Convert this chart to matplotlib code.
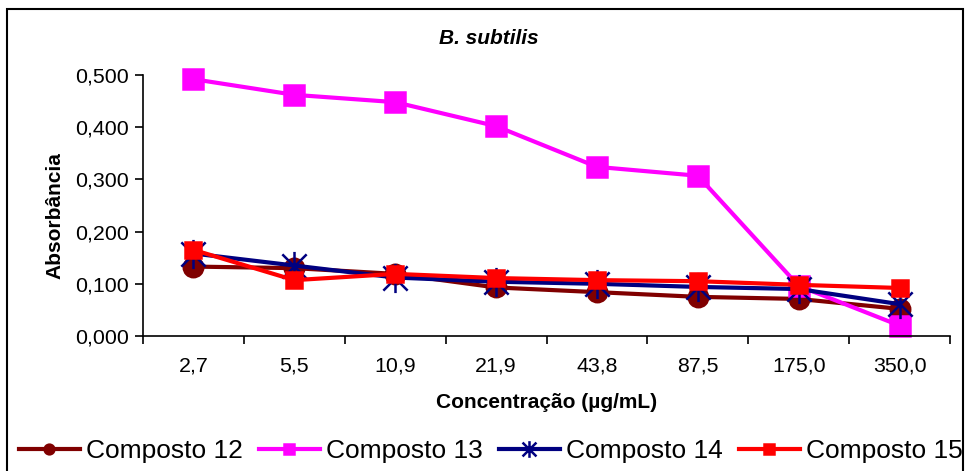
import matplotlib
matplotlib.use("Agg")
import matplotlib.pyplot as plt
from matplotlib.patches import Rectangle
from matplotlib.path import Path
import numpy as np

plt.rcParams['font.family'] = ['Liberation Sans', 'DejaVu Sans']

# concentrations (ug/mL) and absorbance for each compound
concentracoes = ['2,7', '5,5', '10,9', '21,9', '43,8', '87,5', '175,0', '350,0']
composto_12 = [0.133, 0.130, 0.119, 0.093, 0.084, 0.075, 0.071, 0.052]
composto_13 = [0.492, 0.462, 0.448, 0.402, 0.324, 0.307, 0.096, 0.020]
composto_14 = [0.158, 0.135, 0.112, 0.104, 0.100, 0.094, 0.090, 0.061]
composto_15 = [0.165, 0.107, 0.119, 0.111, 0.107, 0.105, 0.098, 0.092]

W, H = 970, 471
fig = plt.figure(figsize=(W / 100, H / 100), dpi=100)

# outer chart border (runs off the bottom edge)
fig.patches.append(Rectangle((7 / W, -0.05), 956 / W, 1.05 - 9 / H,
                             transform=fig.transFigure, fill=False,
                             edgecolor='black', linewidth=1.5, clip_on=False))

# Excel-style asterisk: an X crossed by a vertical stroke
asterisco = Path([(-1, -1), (1, 1), (-1, 1), (1, -1), (0, -1.2), (0, 1.2)],
                 [Path.MOVETO, Path.LINETO] * 3)

ax = fig.add_axes([143 / W, 135 / H, 807 / W, 261 / H])
x = np.arange(len(concentracoes))

# name, values, colour, marker, size in plot, size in legend
series = [
    ('Composto 12', composto_12, '#800000', 'o', 14, 7),
    ('Composto 13', composto_13, '#FF00FF', 's', 14, 7),
    ('Composto 14', composto_14, '#000080', asterisco, 21, 12),
    ('Composto 15', composto_15, '#FF0000', 's', 11, 7),
]
for nome, valores, cor, marcador, ms, _ in series:
    ax.plot(x, valores, color=cor, linewidth=3, marker=marcador,
            markersize=ms, markerfacecolor=cor, markeredgecolor=cor,
            markeredgewidth=1.8, label=nome, clip_on=False)

ax.set_xlim(-0.5, len(concentracoes) - 0.5)
ax.set_ylim(0, 0.5)
yticks = np.arange(0, 0.501, 0.1)
ax.set_yticks(yticks)
ax.set_yticklabels([f'{v:.3f}'.replace('.', ',') for v in yticks])
ax.set_xticks(x)
ax.set_xticklabels(concentracoes)
ax.set_xticks(np.arange(-0.5, len(concentracoes)), minor=True)
ax.tick_params(axis='x', which='major', length=0, pad=15, labelsize=15.4)
ax.tick_params(axis='x', which='minor', length=6, width=1.2, color='black')
ax.tick_params(axis='y', length=6, width=1.2, labelsize=15.4, pad=4)

for lado in ('top', 'right'):
    ax.spines[lado].set_visible(False)
for lado in ('left', 'bottom'):
    ax.spines[lado].set_linewidth(1.2)

fig.text(489 / W, 1 - 38 / H, 'B. subtilis', ha='center', va='center',
         fontsize=15, fontweight='bold', fontstyle='italic')
fig.text(547 / W, 1 - 403 / H, 'Concentração (µg/mL)', ha='center',
         va='center', fontsize=15, fontweight='bold')
fig.text(55 / W, 1 - 216 / H, 'Absorbância', ha='center', va='center',
         rotation=90, fontsize=15, fontweight='bold')

leg = fig.legend(loc='center', bbox_to_anchor=(491 / W, 1 - 451 / H), ncol=4,
                 frameon=False, fontsize=19, handlelength=2.3,
                 handletextpad=0.25, columnspacing=0.6, borderpad=0)
for handle, (_, _, _, _, _, ms_leg) in zip(leg.legend_handles, series):
    handle.set_markersize(ms_leg)

fig.savefig('out.png', dpi=100)
